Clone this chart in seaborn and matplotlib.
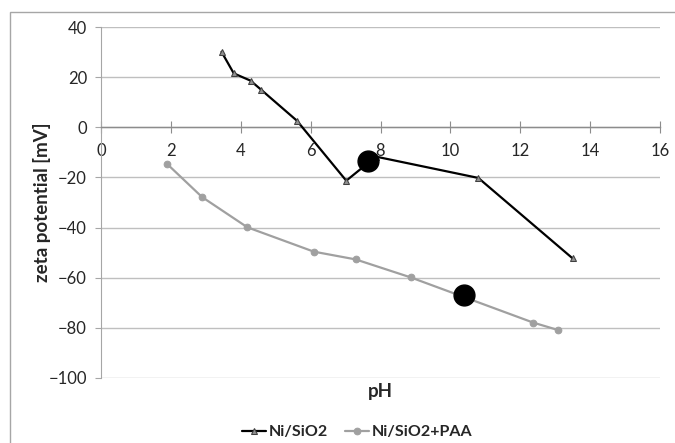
import pandas as pd
import numpy as np
import matplotlib
matplotlib.use("Agg")
import matplotlib.pyplot as plt
import seaborn as sns
from matplotlib.patches import Rectangle

# datos
ph_sio2 = [3.45, 3.8, 4.28, 4.59, 5.61, 7.02, 7.87, 10.8, 13.5]
zeta_sio2 = [30.1, 21.5, 18.6, 14.9, 2.6, -21.3, -11.7, -20.2, -52.3]

ph_paa = [1.89, 2.89, 4.19, 6.09, 7.29, 8.87, 12.37, 13.09]
zeta_paa = [-14.6, -27.8, -39.9, -49.6, -52.7, -59.9, -77.9, -80.9]

# puntos marcados con circulo negro grande
ph_marca = [7.64, 10.38]
zeta_marca = [-13.4, -66.9]

x_ticks = [0, 2, 4, 6, 8, 10, 12, 14, 16]
y_ticks = [-100, -80, -60, -40, -20, 0, 20, 40]

df_sio2 = pd.DataFrame({"pH": ph_sio2, "zeta": zeta_sio2})
df_paa = pd.DataFrame({"pH": ph_paa, "zeta": zeta_paa})
df_marca = pd.DataFrame({"pH": ph_marca, "zeta": zeta_marca})

sns.set_style("white")
plt.rcParams["font.family"] = ["Lato", "DejaVu Sans"]

fig = plt.figure(figsize=(6.75, 4.43), dpi=100)
ax = fig.add_axes([101 / 675, 1 - 378 / 443, 559 / 675, 351 / 443])

# marco exterior
fig.patches.append(Rectangle((10 / 675, -0.1), 1.2, 1.1 - 12 / 443,
                             transform=fig.transFigure, fill=False,
                             edgecolor="#a6a6a6", linewidth=1.0))

sns.lineplot(data=df_paa, x="pH", y="zeta", ax=ax, color="#a0a0a0", linewidth=1.6,
             marker="o", markersize=4.8, markeredgecolor="#a0a0a0",
             markerfacecolor="#a0a0a0", label="Ni/SiO2+PAA", zorder=3)
sns.lineplot(data=df_sio2, x="pH", y="zeta", ax=ax, color="black", linewidth=1.6,
             marker="^", markersize=5, markeredgecolor="#404040",
             markerfacecolor="#909090", label="Ni/SiO2", zorder=4)
ax.plot(df_marca["pH"], df_marca["zeta"], linestyle="none", marker="o",
        markersize=15, color="black", zorder=5)

ax.set_xlim(0, 16)
ax.set_ylim(-100, 40)
ax.set_xticks(x_ticks)
ax.set_yticks(y_ticks)
ax.yaxis.grid(True, color="#bfbfbf", linewidth=1.0)
ax.set_axisbelow(True)

for s in ["top", "right"]:
    ax.spines[s].set_visible(False)
ax.spines["left"].set_color("#a6a6a6")
ax.spines["bottom"].set_position(("data", 0))
ax.spines["bottom"].set_color("#8c8c8c")
ax.spines["bottom"].set_linewidth(1.0)

ax.tick_params(axis="x", direction="inout", length=8, color="#8c8c8c",
               labelsize=12, pad=7, bottom=True)
ax.tick_params(axis="y", direction="out", length=4, color="#a6a6a6",
               labelsize=12, pad=6, left=True)

ax.set_xlabel("pH", fontsize=13.5, fontweight="bold")
ax.xaxis.set_label_coords(0.5, -0.015)
ax.set_ylabel("zeta potential [mV]", fontsize=13.5, fontweight="bold")
ax.yaxis.set_label_coords(-0.09, 0.5)

handles, labels = ax.get_legend_handles_labels()
orden = [labels.index("Ni/SiO2"), labels.index("Ni/SiO2+PAA")]
fig.legend([handles[i] for i in orden], [labels[i] for i in orden],
           loc="center", bbox_to_anchor=(357 / 675, 1 - 432 / 443), ncol=2,
           frameon=False, handlelength=1.5, handletextpad=0.15, columnspacing=1.1,
           prop={"weight": "bold", "size": 11.5})
ax.get_legend().remove()

fig.savefig("out.png", dpi=100)
